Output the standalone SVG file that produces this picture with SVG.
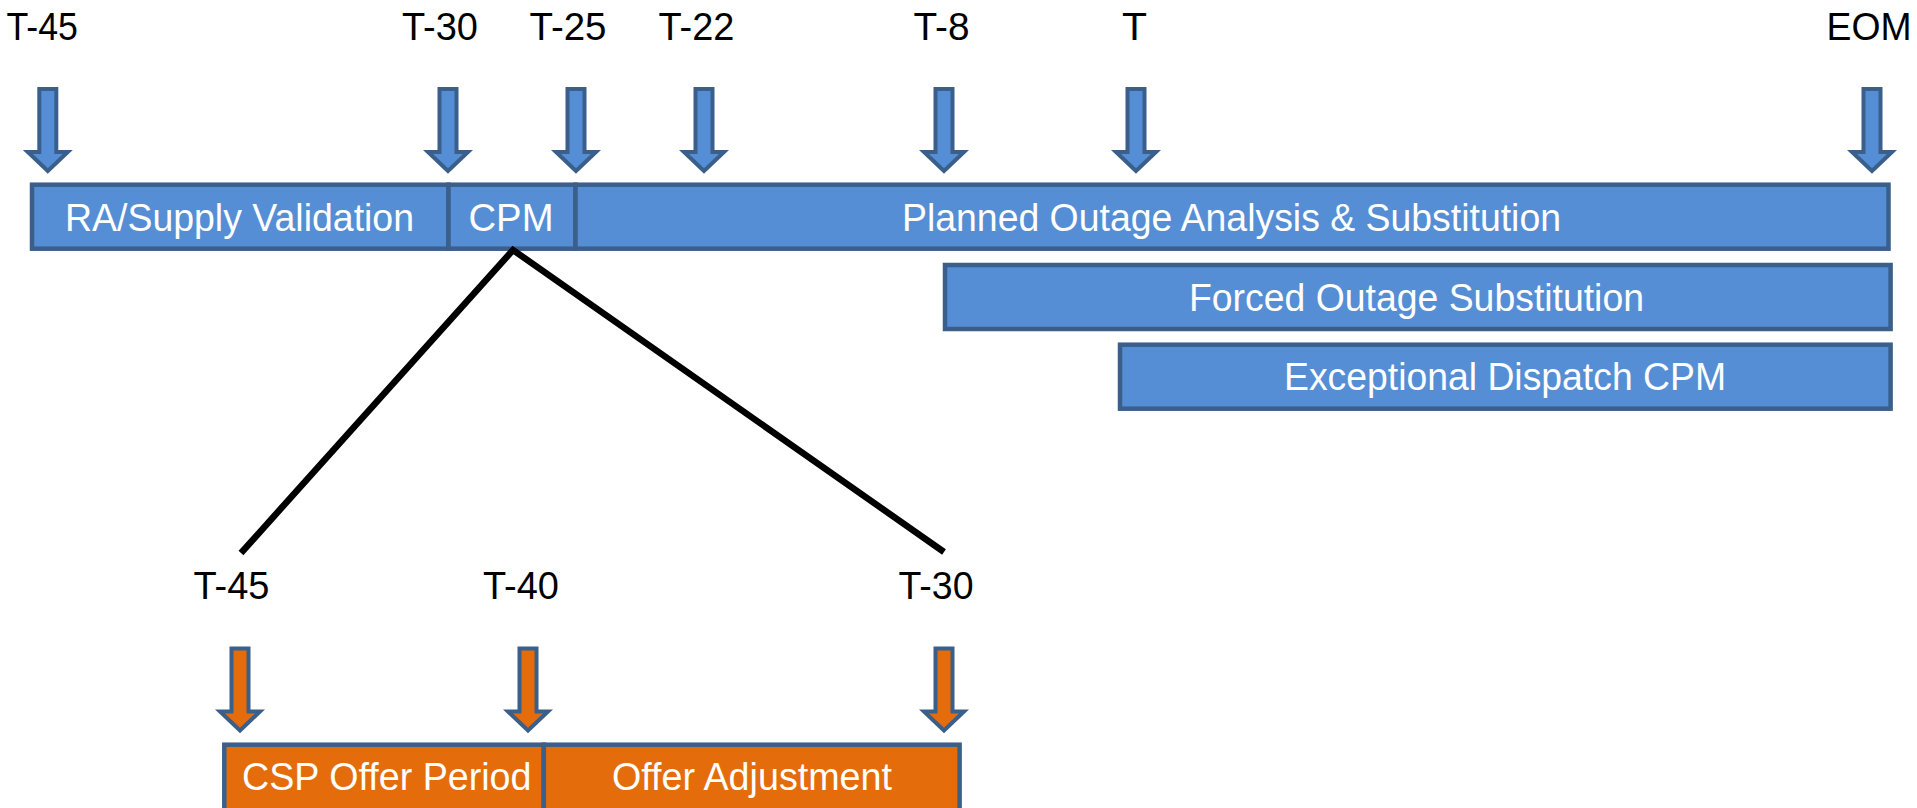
<svg xmlns="http://www.w3.org/2000/svg" width="1917" height="808" viewBox="0 0 1917 808">
<style>
.lbl{font-family:"Liberation Sans",Arial,sans-serif;font-size:38.5px;fill:#000}
.bt{font-family:"Liberation Sans",Arial,sans-serif;font-size:38px;fill:#fff}
.bar{fill:#558ED5;stroke:#3A5F8B;stroke-width:4.5}
.obar{fill:#E46C0A;stroke:#3A5F8B;stroke-width:4.5}
.arr{fill:#558ED5;stroke:#3A5F8B;stroke-width:4;stroke-linejoin:miter}
.oarr{fill:#E46C0A;stroke:#3A5F8B;stroke-width:4;stroke-linejoin:miter}
.con{stroke:#000;stroke-width:6.5;fill:none}
</style>
<defs>
<path id="ar" d="M-8.5,89 L8.5,89 L8.5,152 L20,152 L0,171 L-20,152 L-8.5,152 Z"/>
</defs>
<g id="labels-top">
<text class="lbl" x="6.5" y="39.5" textLength="71.5" lengthAdjust="spacingAndGlyphs">T-45</text>
<text class="lbl" x="402" y="39.5" textLength="76" lengthAdjust="spacingAndGlyphs">T-30</text>
<text class="lbl" x="529.5" y="39.5" textLength="77" lengthAdjust="spacingAndGlyphs">T-25</text>
<text class="lbl" x="658.5" y="39.5" textLength="76" lengthAdjust="spacingAndGlyphs">T-22</text>
<text class="lbl" x="913.5" y="39.5" textLength="56" lengthAdjust="spacingAndGlyphs">T-8</text>
<text class="lbl" x="1122" y="39.5" textLength="25" lengthAdjust="spacingAndGlyphs">T</text>
<text class="lbl" x="1826.5" y="39.5" textLength="85" lengthAdjust="spacingAndGlyphs">EOM</text>
</g>
<g id="arrows-top">
<use href="#ar" class="arr" x="47.8"/>
<use href="#ar" class="arr" x="448"/>
<use href="#ar" class="arr" x="576"/>
<use href="#ar" class="arr" x="704"/>
<use href="#ar" class="arr" x="944"/>
<use href="#ar" class="arr" x="1136"/>
<use href="#ar" class="arr" x="1872"/>
</g>
<g id="ra">
<rect class="bar" x="32" y="184.7" width="416.5" height="64"/>
<text class="bt" x="65" y="231" textLength="349" lengthAdjust="spacingAndGlyphs">RA/Supply Validation</text>
</g>
<g id="cpm">
<rect class="bar" x="448.5" y="184.7" width="127" height="64"/>
<text class="bt" x="468.5" y="231" textLength="85" lengthAdjust="spacingAndGlyphs">CPM</text>
</g>
<g id="planned">
<rect class="bar" x="575.5" y="184.7" width="1313" height="64"/>
<text class="bt" x="902" y="231" textLength="659" lengthAdjust="spacingAndGlyphs">Planned Outage Analysis &amp; Substitution</text>
</g>
<g id="forced">
<rect class="bar" x="945" y="265" width="945.6" height="64"/>
<text class="bt" x="1189" y="310.5" textLength="455" lengthAdjust="spacingAndGlyphs">Forced Outage Substitution</text>
</g>
<g id="exceptional">
<rect class="bar" x="1120" y="344.7" width="770.6" height="64"/>
<text class="bt" x="1284" y="390" textLength="442" lengthAdjust="spacingAndGlyphs">Exceptional Dispatch CPM</text>
</g>
<g id="connectors">
<polyline class="con" points="241,553 513,250 944,552"/>
</g>
<g id="labels-bottom">
<text class="lbl" x="193.5" y="598.5" textLength="76" lengthAdjust="spacingAndGlyphs">T-45</text>
<text class="lbl" x="483" y="598.5" textLength="76" lengthAdjust="spacingAndGlyphs">T-40</text>
<text class="lbl" x="898.5" y="598.5" textLength="75" lengthAdjust="spacingAndGlyphs">T-30</text>
</g>
<g id="arrows-bottom">
<use href="#ar" class="oarr" x="240" y="559.5"/>
<use href="#ar" class="oarr" x="528" y="559.5"/>
<use href="#ar" class="oarr" x="944" y="559.5"/>
</g>
<g id="csp">
<rect class="obar" x="224.3" y="744.7" width="319.5" height="70"/>
<text class="bt" x="242" y="790" textLength="289.5" lengthAdjust="spacingAndGlyphs">CSP Offer Period</text>
</g>
<g id="adjust">
<rect class="obar" x="543.8" y="744.7" width="415.8" height="70"/>
<text class="bt" x="612" y="790" textLength="280" lengthAdjust="spacingAndGlyphs">Offer Adjustment</text>
</g>
</svg>
